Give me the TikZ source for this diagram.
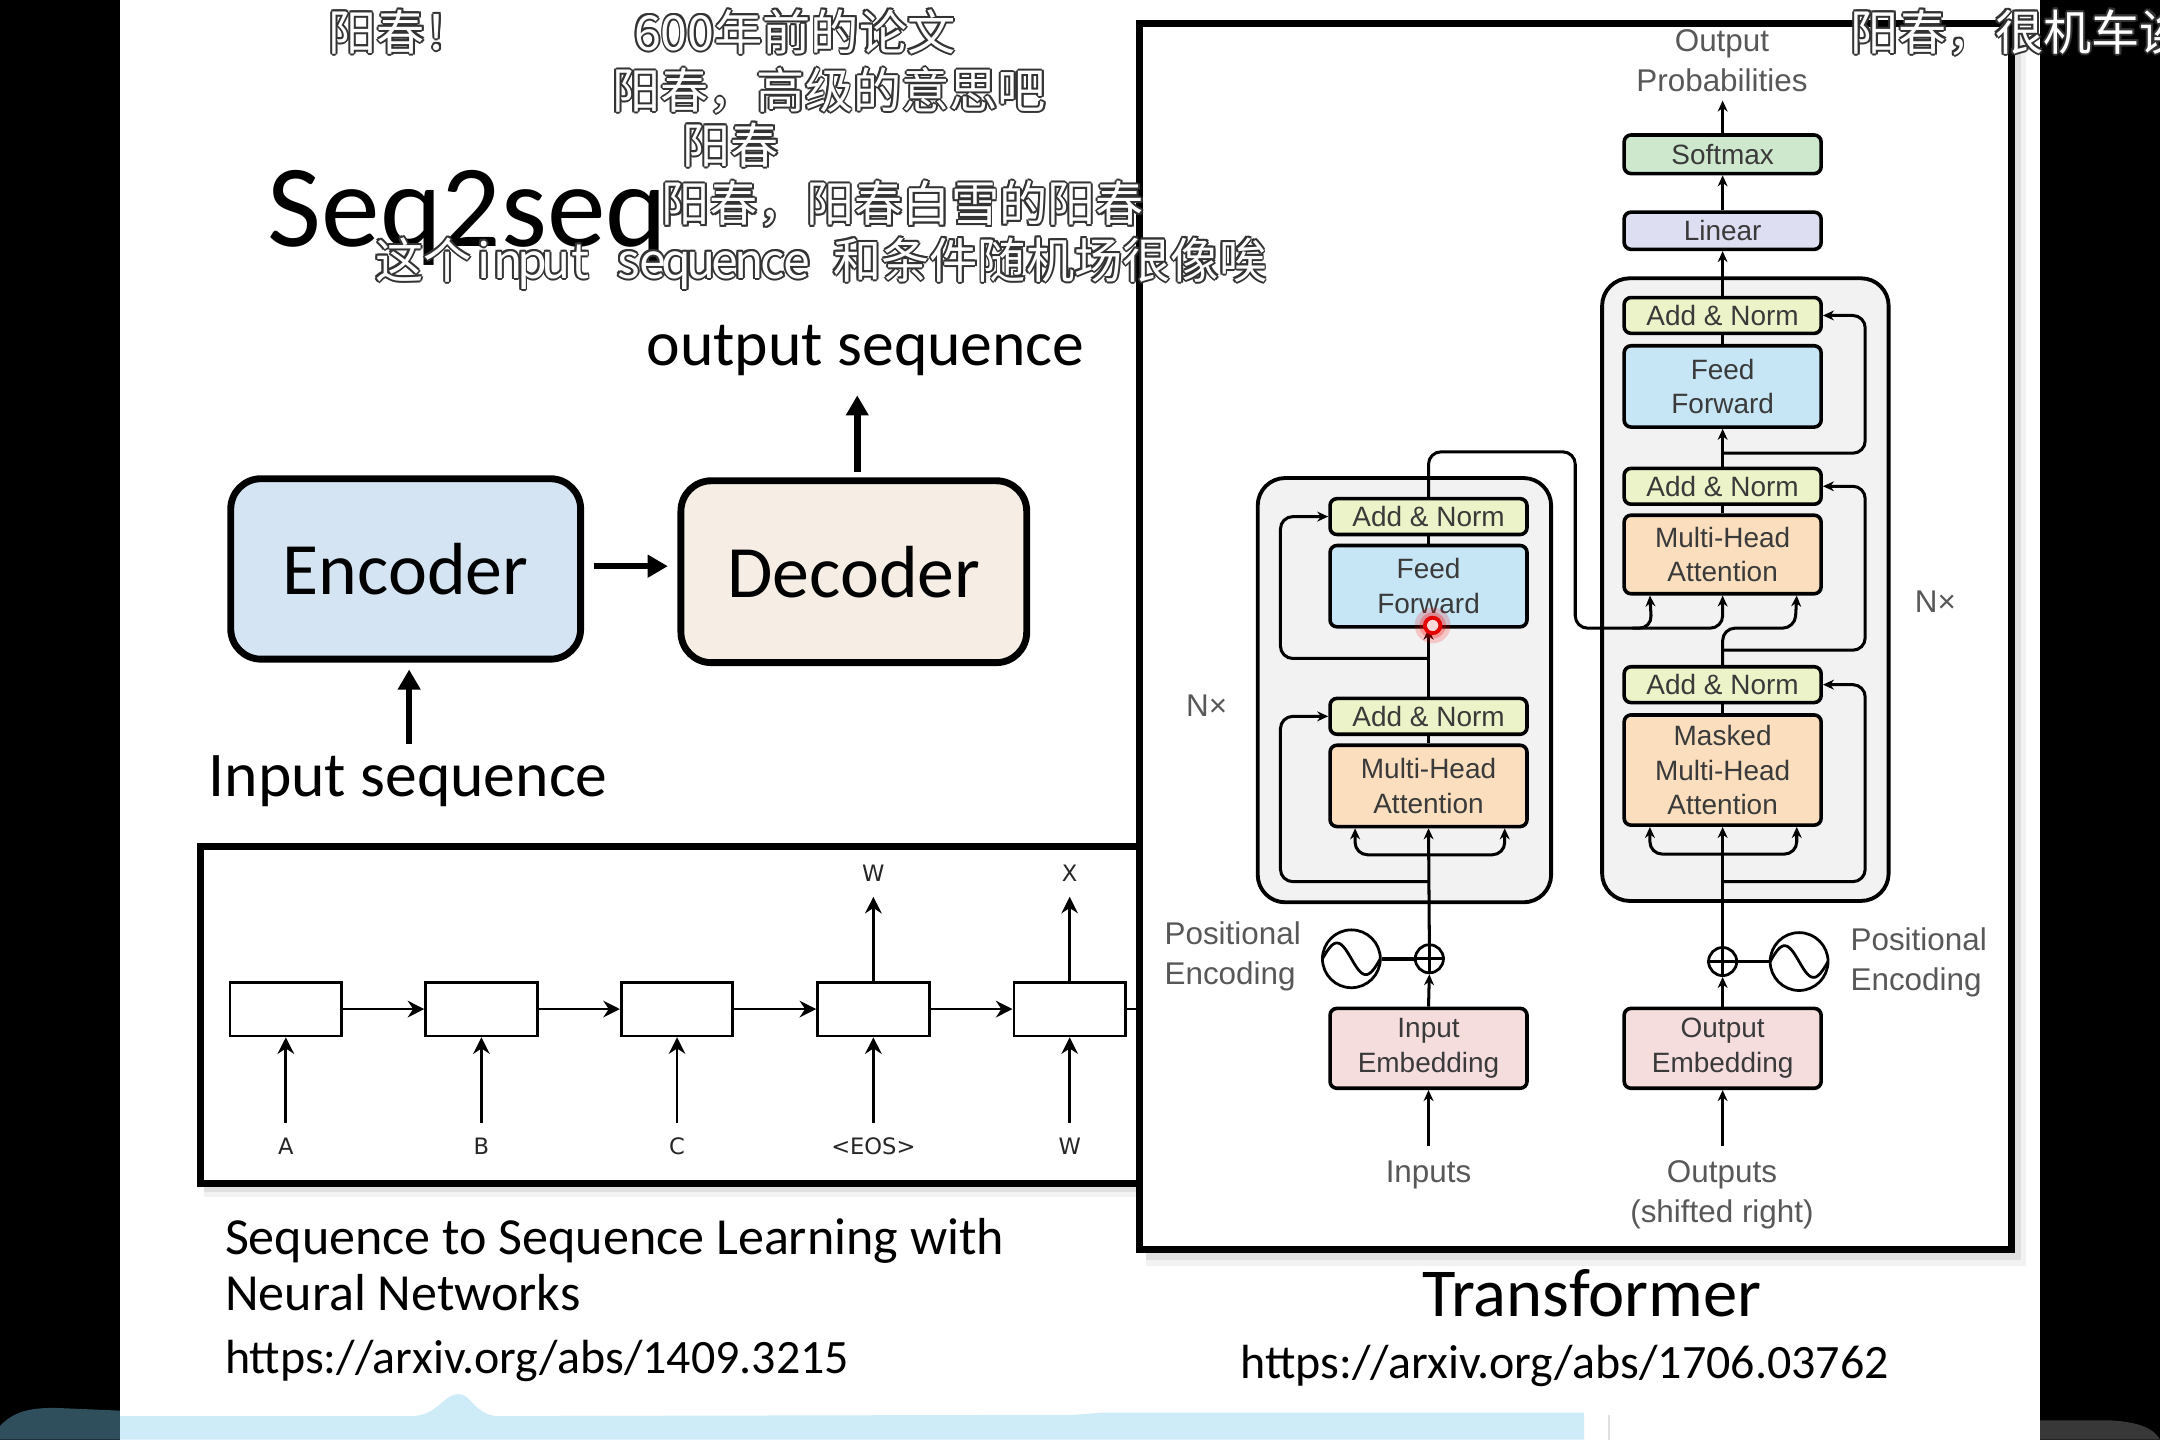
\documentclass[tikz,border=0pt]{standalone}
\usepackage{fontspec}
\setmainfont{Carlito}
\newfontfamily\tff{Liberation Sans}
\newfontfamily\rnnf{DejaVu Sans}
\newfontfamily\cjk{Noto Sans CJK SC}
\usetikzlibrary{arrows.meta,calc}

\definecolor{addc}{RGB}{237,243,200}
\definecolor{ffc}{RGB}{198,229,245}
\definecolor{mhac}{RGB}{250,222,189}
\definecolor{smc}{RGB}{206,232,205}
\definecolor{linc}{RGB}{221,222,241}
\definecolor{embc}{RGB}{245,221,221}
\definecolor{blkc}{RGB}{242,242,242}
\definecolor{encc}{RGB}{212,228,243}
\definecolor{decc}{RGB}{246,238,229}
\definecolor{txtc}{RGB}{58,58,58}
\definecolor{lblc}{RGB}{88,88,88}
\definecolor{stripc}{RGB}{205,236,247}
\definecolor{tealc}{RGB}{46,79,91}

% half-width Latin letters inside the CJK captions
\newcommand{\hw}[1]{\makebox[0.5em][c]{#1}}
% white caption text with a dark outline
\newcommand{\subline}[3]{%
  \foreach \dx/\dy in {0.7/0,-0.7/0,0/0.7,0/-0.7,0.5/0.5,0.5/-0.5,-0.5/0.5,-0.5/-0.5}{%
    \node[capbk,xshift=\dx pt,yshift=\dy pt] at (#2) {#3};}%
  \node[capwt] (#1) at (#2) {#3};}

\tikzset{
  capbk/.style={anchor=base west,inner sep=0pt,font=\cjk\fontsize{17.5}{20}\selectfont,text=black!80},
  capwt/.style={capbk,text=white},
  slidebox/.style={draw=black,line width=2.5pt,rounded corners=11pt,inner sep=0pt,
    minimum width=127pt,minimum height=65.5pt,font=\fontsize{26.8}{32}\selectfont},
  bigarrow/.style={line width=2.4pt,-{Triangle[length=7.3pt,width=7.9pt]}},
  rnnbox/.style={draw=black,line width=1pt,fill=white,minimum width=40.5pt,minimum height=19.5pt,inner sep=0pt},
  rnnarrow/.style={line width=1pt,-{Stealth[length=6pt,width=6pt]}},
  rnnlbl/.style={font=\rnnf\fontsize{8.2}{10}\selectfont,text=black!85,inner sep=0pt},
  tb/.style={draw=black,line width=1.3pt,rounded corners=2.5pt,minimum width=71.5pt,inner sep=0pt,
    align=center,font=\tff\fontsize{10.15}{12.5}\selectfont,text=txtc},
  blk/.style={draw=black,line width=1.4pt,fill=blkc,rounded corners=10pt},
  ln/.style={line width=1.1pt,draw=black},
  ar/.style={ln,-{Stealth[length=4pt,width=3.6pt]}},
  rc/.style={rounded corners=4.5pt},
  lbl/.style={font=\tff\fontsize{11.4}{14.5}\selectfont,text=lblc,inner sep=0pt,align=center},
  sinec/.style={draw=black,circle,line width=1pt,minimum size=21pt,inner sep=0pt},
  plusc/.style={draw=black,circle,line width=1pt,minimum size=10.2pt,inner sep=0pt},
}

\begin{document}
\begin{tikzpicture}[x=0.5pt,y=-0.5pt]
\useasboundingbox (0,0) rectangle (1568,1045);

% screen background and slide area
\fill[black] (0,0) rectangle (1568,1045);
\fill[white] (87,0) rectangle (1481,1045);

% player bar at the bottom
\fill[stripc] (87,1045) -- (87,1028) -- (300,1028)
  .. controls (318,1027) and (322,1012) .. (333,1012)
  .. controls (342,1012) and (344,1026) .. (360,1028)
  -- (780,1027) -- (800,1025.5) -- (1150,1025.5) -- (1150,1045) -- cycle;
\draw[black!12,line width=0.6pt] (1168,1027) -- (1168,1045);
\fill[tealc] (0,1045) -- (0,1035) .. controls (10,1025) and (20,1022) .. (40,1022) -- (87,1024) -- (87,1045) -- cycle;
\fill[black!78] (1481,1045) -- (1481,1031) -- (1530,1031) .. controls (1555,1032) and (1564,1038) .. (1568,1045) -- cycle;

% ---------- seq2seq slide ----------
\node[anchor=base west,inner sep=0pt,font=\fontsize{42.6}{48}\selectfont] (ttl) at (194,179) {Seq2seq};
\node[anchor=base west,inner sep=0pt,font=\fontsize{23.1}{28}\selectfont] (outseq) at (469,265) {output sequence};
\node[anchor=base west,inner sep=0pt,font=\fontsize{23.1}{28}\selectfont] (inseq) at (151,578) {Input sequence};

\node[slidebox,fill=encc] (enc) at (294.5,413) {Encoder};
\node[slidebox,fill=decc,minimum width=125.5pt,minimum height=66pt] (dec) at (619.8,415) {Decoder};

\coordinate (outtip) at (622.3,287);
\coordinate (intail) at (297,540);
\draw[bigarrow,shorten <=3.5pt,shorten >=3.5pt] (enc.east |- 0,411) -- (dec.west |- 0,411);
\draw[bigarrow,shorten <=2pt] (outtip |- dec.north) -- (outtip);
\draw[bigarrow,shorten >=2.5pt] (intail) -- (intail |- enc.south);

% ---------- RNN encoder-decoder figure ----------
\fill[black,opacity=0.05] (148,620) rectangle (840,869);
\fill[black,opacity=0.07] (148,620) rectangle (840,865);
\fill[white] (145.7,614.7) rectangle (840,859);
\draw[line width=2.5pt] (145.7,614.7) rectangle (840,859);

\node[rnnbox] (r1) at (207.5,732.5) {};
\node[rnnbox] (r2) at (349.5,732.5) {};
\node[rnnbox] (r3) at (491.5,732.5) {};
\node[rnnbox] (r4) at (634,732.5) {};
\node[rnnbox] (r5) at (776.5,732.5) {};
\coordinate (rout) at (860,732.5);
\draw[rnnarrow] (r1.east) -- (r2.west);
\draw[rnnarrow] (r2.east) -- (r3.west);
\draw[rnnarrow] (r3.east) -- (r4.west);
\draw[rnnarrow] (r4.east) -- (r5.west);
\draw[line width=1pt] (r5.east) -- (rout);

\foreach \n/\t/\xx in {1/A/207.5,2/B/349.5,3/C/491.5,4/{<EOS>}/634,5/W/776.5}{
  \node[rnnlbl] (in\n) at (\xx,832) {\t};
  \coordinate (it\n) at (\xx,815);
  \draw[rnnarrow] (it\n) -- (r\n.south);
}
\node[rnnlbl] (o4) at (634,634) {W};
\node[rnnlbl] (o5) at (776.5,634) {X};
\coordinate (ot4) at (634,651);
\coordinate (ot5) at (776.5,651);
\draw[rnnarrow] (r4.north) -- (ot4);
\draw[rnnarrow] (r5.north) -- (ot5);

\node[anchor=base west,inner sep=0pt,font=\fontsize{18.9}{22}\selectfont] (pap1) at (163,911) {Sequence to Sequence Learning with};
\node[anchor=base west,inner sep=0pt,font=\fontsize{18.9}{22}\selectfont] (pap2) at (163,951) {Neural Networks};
\node[anchor=base west,inner sep=0pt,font=\fontsize{17.4}{20}\selectfont] (url1) at (163,997) {https://arxiv.org/abs/1409.3215};

% ---------- Transformer figure ----------
\fill[black,opacity=0.05] (832,24) rectangle (1471,919);
\fill[black,opacity=0.07] (832,22) rectangle (1467,915);
\fill[white] (827,17) rectangle (1460,907);
\draw[line width=2.5pt] (827,17) rectangle (1460,907);

\node[blk,minimum width=106.5pt,minimum height=154pt] (eblk) at (1019.5,501) {};
\node[blk,minimum width=104pt,minimum height=226pt] (dblk) at (1267,428) {};

\node[tb,fill=smc,minimum height=14pt] (smax) at (1250.5,112) {Softmax};
\node[tb,fill=linc,minimum height=13.5pt] (lin) at (1250.5,167.5) {Linear};

\node[tb,fill=addc,minimum height=13pt] (da1) at (1250.5,229) {Add \& Norm};
\node[tb,fill=ffc,minimum height=29.5pt] (dff) at (1250.5,280.5) {Feed\\Forward};
\node[tb,fill=addc,minimum height=13pt] (da2) at (1250.5,353) {Add \& Norm};
\node[tb,fill=mhac,minimum height=28.5pt] (dmha) at (1250.5,402.5) {Multi-Head\\Attention};
\node[tb,fill=addc,minimum height=13pt] (da3) at (1250.5,497) {Add \& Norm};
\node[tb,fill=mhac,minimum height=40pt] (dmm) at (1250.5,559) {Masked\\Multi-Head\\Attention};
\node[tb,fill=embc,minimum height=29pt] (demb) at (1250.5,761) {Output\\Embedding};

\node[tb,fill=addc,minimum height=13pt] (ea1) at (1037,375) {Add \& Norm};
\node[tb,fill=ffc,minimum height=29.5pt] (eff) at (1037,425.5) {Feed\\Forward};
\node[tb,fill=addc,minimum height=13pt] (ea2) at (1037,520) {Add \& Norm};
\node[tb,fill=mhac,minimum height=29.5pt] (emha) at (1037,570.5) {Multi-Head\\Attention};
\node[tb,fill=embc,minimum height=29pt] (eemb) at (1037,761) {Input\\Embedding};

% positional encodings
\node[plusc] (eplus) at (1037.6,696) {};
\draw[line width=1pt] (eplus.north) -- (eplus.south) (eplus.west) -- (eplus.east);
\node[sinec] (esin) at (981,696) {};
\draw[line width=1pt,shift={(esin.center)}] plot[domain=-1:1,samples=40,smooth] ({21*\x},{-11.5*sin(180*(\x+1))});
\draw[line width=1.3pt] (esin.east) -- (eplus.west);

\node[plusc] (dplus) at (1250.5,698) {};
\draw[line width=1pt] (dplus.north) -- (dplus.south) (dplus.west) -- (dplus.east);
\node[sinec] (dsin) at (1306,698) {};
\draw[line width=1pt,shift={(dsin.center)}] plot[domain=-1:1,samples=40,smooth] ({21*\x},{-11.5*sin(180*(\x+1))});
\draw[line width=1.3pt] (dsin.west) -- (dplus.east);

% labels
\node[lbl] (prob) at (1250,44) {Output\\Probabilities};
\node[lbl,align=left,anchor=west] (epos) at (845,694.5) {Positional\\Encoding};
\node[lbl,align=left,anchor=west] (dpos) at (1343,698.5) {Positional\\Encoding};
\node[lbl] (inp) at (1037,853) {Inputs};
\node[lbl] (outp) at (1250,867.5) {Outputs\\(shifted right)};
\node[lbl] (enx) at (876,512) {N×};
\node[lbl] (dnx) at (1405,437) {N×};

\coordinate (ptip) at (1250.5,73);
\coordinate (itail) at (1037,832);
\coordinate (otail) at (1250.5,832);

% encoder connections
\draw[ar] (itail) -- (eemb.south);
\draw[ar] (eemb.north) -- (eplus.south);
\draw[ar] (eplus.north) -- (emha.south);
\draw[ar,rc] (1037,620.5) -| ($(emha.south west)+(19.5,0)$);
\draw[ar,rc] (1037,620.5) -| ($(emha.south east)+(-17.5,0)$);
\draw[ar,rc] (1037,640) -- (929.5,640) -- (929.5,520) -- (ea2.west);
\draw[ln] (emha.north) -- (ea2.south);
\draw[ar] (ea2.north) -- (eff.south);
\draw[ar,rc] (1037,478) -- (929.5,478) -- (929.5,375) -- (ea1.west);
\draw[ln] (eff.north) -- (ea1.south);
\draw[ar,rc] (ea1.north) -- (1037,328) -- (1143.5,328) -- (1143.5,456) -- (1199,456) -- ($(dmha.south west)+(20,0)$);
\draw[ar,rc] (1185,456) -- (1250.5,456) -- (dmha.south);

% decoder connections
\draw[ar] (otail) -- (demb.south);
\draw[ar] (demb.north) -- (dplus.south);
\draw[ar] (dplus.north) -- (dmm.south);
\draw[ar,rc] (1250.5,620) -| ($(dmm.south west)+(20,0)$);
\draw[ar,rc] (1250.5,620) -| ($(dmm.south east)+(-19,0)$);
\draw[ar,rc] (1250.5,640) -- (1354,640) -- (1354,497) -- (da3.east);
\draw[ln] (dmm.north) -- (da3.south);
\draw[ar,rc] (da3.north) -- (1250.5,456) -- (1303,456) -- ($(dmha.south east)+(-19,0)$);
\draw[ar,rc] (1250.5,472) -- (1354,472) -- (1354,353) -- (da2.east);
\draw[ln] (dmha.north) -- (da2.south);
\draw[ar] (da2.north) -- (dff.south);
\draw[ar,rc] (1250.5,329) -- (1354,329) -- (1354,229) -- (da1.east);
\draw[ln] (dff.north) -- (da1.south);
\draw[ar] (da1.north) -- (lin.south);
\draw[ar] (lin.north) -- (smax.south);
\draw[ar] (smax.north) -- (ptip);

\node[anchor=base west,inner sep=0pt,font=\fontsize{24.9}{28}\selectfont] (tfm) at (1032,955.5) {Transformer};
\node[anchor=base west,inner sep=0pt,font=\fontsize{17.4}{20}\selectfont] (url2) at (900,1001) {https://arxiv.org/abs/1706.03762};

% pointer mark
\fill[red,opacity=0.18] (1040,454) circle (6.5pt);
\fill[red,opacity=0.25] (1040,454) circle (4.8pt);
\draw[red!90!black,line width=1.4pt,fill=white!85!red] (1040,454) circle (2.8pt);

% ---------- captions ----------
\subline{c1}{238,36.5}{阳春！}
\subline{c2}{460,36.5}{600年前的论文}
\subline{c3}{444,78.8}{阳春，高级的意思吧}
\subline{c4}{495,118.5}{阳春}
\subline{c5}{480,161}{阳春，阳春白雪的阳春}
\subline{c6}{272,202}{这个\hw{i}\hw{n}\hw{p}\hw{u}\hw{t}\hw{ }\hw{s}\hw{e}\hw{q}\hw{u}\hw{e}\hw{n}\hw{c}\hw{e}\hw{ }和条件随机场很像唉}
\subline{c7}{1343,36.5}{阳春，很机车诶}
\end{tikzpicture}
\end{document}
